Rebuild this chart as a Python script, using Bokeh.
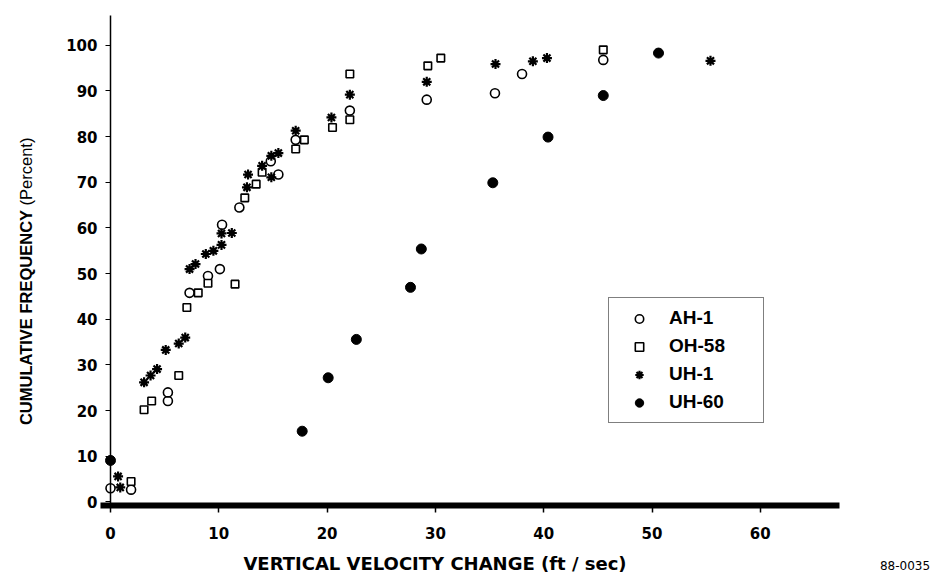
import math
from bokeh.plotting import figure
from bokeh.models import Range1d, LinearAxis, FixedTicker, Legend, LegendItem, Label
from bokeh.embed import file_html
from bokeh.resources import INLINE

# ---- data ----
ah1_x = [0.0, 1.9, 5.3, 5.3, 7.3, 9.0, 10.1, 10.3, 11.9, 14.8, 15.5, 17.1, 22.1, 29.2, 35.5, 38.0, 45.5]
ah1_y = [3.0, 2.7, 22.1, 24.0, 45.8, 49.5, 51.0, 60.7, 64.5, 74.6, 71.7, 79.3, 85.7, 88.1, 89.5, 93.7, 96.8]

oh58_x = [1.9, 3.1, 3.8, 6.3, 7.05, 8.1, 9.0, 11.5, 12.4, 13.45, 14.0, 17.1, 17.9, 20.5, 22.1, 22.1, 29.3, 30.5, 45.5]
oh58_y = [4.5, 20.2, 22.1, 27.7, 42.6, 45.8, 47.9, 47.7, 66.6, 69.6, 72.2, 77.3, 79.3, 82.0, 83.7, 93.7, 95.5, 97.2, 99.0]

uh1_x = [0.7, 0.9, 3.1, 3.7, 4.3, 5.1, 6.3, 6.9, 7.3, 7.85, 8.8, 9.5, 10.25, 10.25, 11.2, 12.6, 12.7,
         14.0, 14.85, 15.5, 14.85, 17.1, 20.4, 22.1, 29.2, 35.55, 39.0, 40.3, 55.4]
uh1_y = [5.6, 3.2, 26.2, 27.7, 29.1, 33.3, 34.7, 36.0, 51.0, 52.1, 54.3, 55.0, 56.3, 58.8, 58.9, 68.9, 71.7,
         73.6, 75.8, 76.4, 71.1, 81.3, 84.2, 89.2, 92.0, 95.9, 96.5, 97.2, 96.6]

uh60_x = [0.0, 17.7, 20.1, 22.7, 27.7, 28.7, 35.3, 40.4, 45.5, 50.6]
uh60_y = [9.1, 15.5, 27.2, 35.6, 47.0, 55.4, 69.9, 79.9, 89.0, 98.3]

x_ticks = [0, 10, 20, 30, 40, 50, 60]
y_ticks = [0, 10, 20, 30, 40, 50, 60, 70, 80, 90, 100]

series_names = ["AH-1", "OH-58", "UH-1", "UH-60"]
x_label = "VERTICAL VELOCITY CHANGE (ft / sec)"
y_label_main = "CUMULATIVE FREQUENCY"
y_label_unit = "(Percent)"
fig_id = "88-0035"

# ---- figure: the frame covers the whole canvas; axes are placed at fixed data locations ----
W, H = 932, 574
p = figure(width=W, height=H, output_backend="svg", toolbar_location=None,
           x_range=Range1d(-10.157, 75.9), y_range=Range1d(-15.875, 109.81),
           x_axis_location=None, y_axis_location=None,
           min_border_left=0, min_border_top=0, min_border_right=0, min_border_bottom=0)
p.grid.visible = False
p.outline_line_color = None
p.background_fill_color = "white"
p.border_fill_color = "white"

xaxis = LinearAxis(ticker=FixedTicker(ticks=x_ticks), fixed_location=-0.766, bounds=(-0.92, 67.3))
xaxis.axis_line_width = 6
xaxis.axis_line_color = "black"
xaxis.major_tick_line_width = 1.5
xaxis.major_tick_out = 7
xaxis.major_tick_in = 0
xaxis.minor_tick_line_color = None
xaxis.major_label_text_font = "DejaVu Sans"
xaxis.major_label_text_font_style = "bold"
xaxis.major_label_text_font_size = "15px"
xaxis.major_label_text_color = "black"
xaxis.major_label_standoff = 15
p.add_layout(xaxis, "below")

yaxis = LinearAxis(ticker=FixedTicker(ticks=y_ticks), fixed_location=0, bounds=(-0.77, 106.5))
yaxis.axis_line_width = 1.5
yaxis.axis_line_color = "black"
yaxis.major_tick_line_width = 1.2
yaxis.major_tick_out = 5
yaxis.major_tick_in = 0
yaxis.minor_tick_line_color = None
yaxis.major_label_text_font = "DejaVu Sans"
yaxis.major_label_text_font_style = "bold"
yaxis.major_label_text_font_size = "15px"
yaxis.major_label_text_color = "black"
yaxis.major_label_standoff = 8
p.add_layout(yaxis, "left")

r_ah1 = p.scatter(ah1_x, ah1_y, marker="circle", size=9, fill_color="white",
                  line_color="black", line_width=1.6)
r_oh58 = p.scatter(oh58_x, oh58_y, marker="square", size=7.5, fill_color="white",
                   line_color="black", line_width=1.6)
r_uh1 = p.scatter(uh1_x, uh1_y, marker="asterisk", size=10, line_color="black", line_width=2.2)
r_uh60 = p.scatter(uh60_x, uh60_y, marker="circle", size=10, fill_color="black",
                   line_color="black", line_width=1)

legend = Legend(items=[LegendItem(label=series_names[0], renderers=[r_ah1]),
                       LegendItem(label=series_names[1], renderers=[r_oh58]),
                       LegendItem(label=series_names[2], renderers=[r_uh1]),
                       LegendItem(label=series_names[3], renderers=[r_uh60])],
                location=(608, 151), orientation="vertical")
legend.margin = 0
legend.padding = 6
legend.spacing = 0
legend.glyph_height = 21
legend.label_height = 28
legend.glyph_width = 48
legend.label_standoff = 6
legend.label_width = 88
legend.label_text_font = "Liberation Sans"
legend.label_text_font_style = "bold"
legend.label_text_font_size = "19px"
legend.label_text_color = "black"
legend.border_line_color = "black"
legend.border_line_width = 1.5
legend.background_fill_color = "white"
legend.background_fill_alpha = 1.0
p.add_layout(legend, "center")

p.add_layout(Label(x=25, y=257, x_units="screen", y_units="screen", text=y_label_main,
                   angle=math.pi / 2, text_align="center", text_baseline="middle",
                   text_font="Liberation Sans", text_font_style="bold",
                   text_font_size="16.5px", text_color="black"))
p.add_layout(Label(x=25, y=403, x_units="screen", y_units="screen", text=y_label_unit,
                   angle=math.pi / 2, text_align="center", text_baseline="middle",
                   text_font="Liberation Sans", text_font_style="normal",
                   text_font_size="16.5px", text_color="black"))
p.add_layout(Label(x=434.5, y=11, x_units="screen", y_units="screen", text=x_label,
                   text_align="center", text_baseline="middle",
                   text_font="DejaVu Sans", text_font_style="bold",
                   text_font_size="18px", text_color="black"))
p.add_layout(Label(x=904.5, y=9, x_units="screen", y_units="screen", text=fig_id,
                   text_align="center", text_baseline="middle",
                   text_font="DejaVu Sans", text_font_size="12px", text_color="black"))

open("out.html", "w").write(file_html(p, INLINE))
